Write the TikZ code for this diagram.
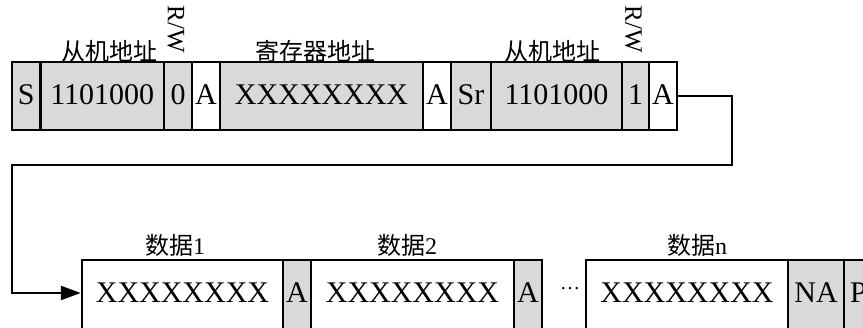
\documentclass[tikz,border=0pt]{standalone}
\usepackage{fontspec}
\setmainfont{Liberation Serif}
\newfontfamily\cjk{Noto Sans CJK SC}
\usetikzlibrary{arrows.meta}
\definecolor{boxgray}{RGB}{217,217,217}
\newcommand\bigf{\fontsize{30pt}{30pt}\selectfont}
\newcommand\labf{\fontsize{24pt}{24pt}\selectfont}
\begin{document}
\begin{tikzpicture}[x=1pt,y=-1pt,
  field/.style={draw, line width=2.5pt, inner sep=0pt, font=\bigf, text height=20pt},
  toprow/.style={field, minimum height=68pt, text depth=2pt},
  botrow/.style={field, minimum height=72pt, text depth=6pt},
  g/.style={fill=boxgray},
  w/.style={fill=white},
  lab/.style={font=\labf\cjk, inner sep=0pt},
  rwlab/.style={font=\fontsize{25pt}{25pt}\selectfont, rotate=-90, inner sep=0pt},
  conn/.style={line width=2.5pt}
]
\useasboundingbox (0,0) rectangle (863,328);
% top row
\node[toprow,g,minimum width=28.5pt] (s)    at (26.25,96) {S};
\node[toprow,g,minimum width=123.5pt] (a1)  at (102.25,96) {1101000};
\node[toprow,g,minimum width=28pt] (rw0)    at (178,96) {0};
\node[toprow,w,minimum width=28pt] (ack1)   at (206,96) {A};
\node[toprow,g,minimum width=203pt] (reg)   at (321.5,96) {XXXXXXXX};
\node[toprow,w,minimum width=28pt] (ack2)   at (437,96) {A};
\node[toprow,g,minimum width=40pt] (sr)     at (471,96) {Sr};
\node[toprow,g,minimum width=131pt] (a2)    at (556.5,96) {1101000};
\node[toprow,g,minimum width=27pt] (rw1)    at (635.5,96) {1};
\node[toprow,w,minimum width=28pt] (ack3)   at (663,96) {A};
% top labels
\node[lab] (l1) at (109,51) {从机地址};
\node[rwlab] (l2) at (176,29) {R/W};
\node[lab] (l3) at (315,51) {寄存器地址};
\node[lab] (l4) at (552,51) {从机地址};
\node[rwlab] (l5) at (633.5,29) {R/W};
% bottom row
\node[botrow,w,minimum width=201pt] (d1)    at (182.5,296) {XXXXXXXX};
\node[botrow,g,minimum width=28pt] (ack4)   at (297,296) {A};
\node[botrow,w,minimum width=203pt] (d2)    at (412.5,296) {XXXXXXXX};
\node[botrow,g,minimum width=28pt] (ack5)   at (528,296) {A};
\node[font=\fontsize{20pt}{20pt}\selectfont, inner sep=0pt, anchor=base] (dots) at (570,290) {…};
\node[botrow,w,minimum width=202pt] (dn)    at (687,296) {XXXXXXXX};
\node[botrow,g,minimum width=56pt] (na)     at (816,296) {NA};
\node[botrow,g,minimum width=29pt] (p)      at (858.5,296) {P};
% bottom labels
\node[lab] (b1) at (175,245) {数据\rmfamily 1};
\node[lab] (b2) at (407,245) {数据\rmfamily 2};
\node[lab] (b3) at (697,245) {数据\rmfamily n};
% connector
\coordinate (c1) at (732,165);
\coordinate (c2) at (12,165);
\draw[conn,-{Triangle[length=20pt,width=14pt]}] (ack3.east) -| (c1) -- (c2) |- ([yshift=3pt]d1.west);
\end{tikzpicture}
\end{document}
